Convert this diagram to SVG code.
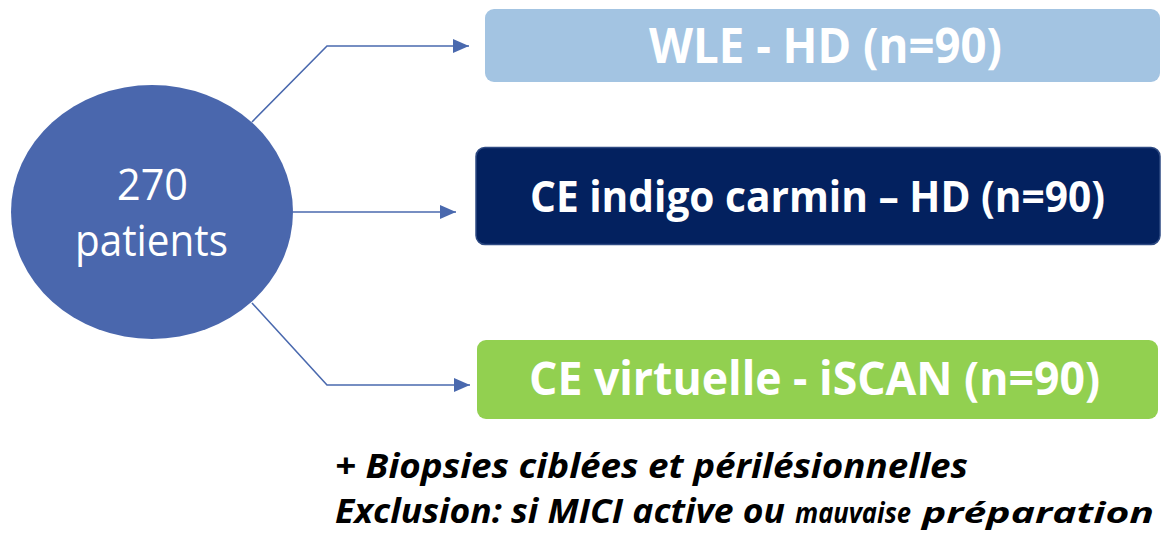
<svg xmlns="http://www.w3.org/2000/svg" width="1168" height="535" viewBox="0 0 1168 535">
<style>
.conn{fill:none;stroke:#4A69AE;stroke-width:1.6}
.bt{font-family:"Open Sans","Noto Sans",sans-serif;font-weight:bold;fill:#fff}
.ct{font-family:"Open Sans","Noto Sans",sans-serif;fill:#fff;font-size:44px}
.nt{font-family:"Open Sans","Noto Sans",sans-serif;font-weight:bold;font-style:italic;fill:#000}
</style>
<defs>
<marker id="arr" viewBox="0 0 16 14" refX="16" refY="7" markerWidth="16" markerHeight="14" markerUnits="userSpaceOnUse" orient="auto">
<path d="M0,0 L16,7 L0,14 Z" fill="#4A69AE"/>
</marker>
</defs>
<g id="connectors">
<polyline class="conn" points="252,122 327,46 469,46" marker-end="url(#arr)"/>
<line class="conn" x1="293" y1="212" x2="456" y2="212" marker-end="url(#arr)"/>
<polyline class="conn" points="252,303 327,385 470,385" marker-end="url(#arr)"/>
</g>
<g id="patients">
<ellipse cx="152" cy="212" rx="141" ry="127" fill="#4A67AD"/>
<text class="ct" x="117" y="200" textLength="71" lengthAdjust="spacingAndGlyphs">270</text>
<text class="ct" x="75" y="256" textLength="153" lengthAdjust="spacingAndGlyphs">patients</text>
</g>
<g id="wle">
<rect x="485" y="9" width="675" height="73" rx="9" fill="#A3C4E2"/>
<text class="bt" x="649" y="63" font-size="48" textLength="353" lengthAdjust="spacingAndGlyphs">WLE - HD (n=90)</text>
</g>
<g id="indigo">
<rect x="476" y="147.5" width="684" height="97" rx="9" fill="#03215F" stroke="#2E4A82" stroke-width="1.5"/>
<text class="bt" x="530" y="212" font-size="43" textLength="575" lengthAdjust="spacingAndGlyphs">CE indigo carmin – HD (n=90)</text>
</g>
<g id="iscan">
<rect x="477" y="340" width="681" height="79" rx="9" fill="#92D050"/>
<text class="bt" x="529" y="395" font-size="47" textLength="571" lengthAdjust="spacingAndGlyphs">CE virtuelle - iSCAN (n=90)</text>
</g>
<g id="notes">
<text class="nt" x="335" y="478" font-size="34" textLength="633" lengthAdjust="spacingAndGlyphs">+ Biopsies ciblées et périlésionnelles</text>
<text class="nt" x="335" y="523" font-size="34" textLength="450" lengthAdjust="spacingAndGlyphs">Exclusion: si MICI active ou</text>
<text class="nt" x="795" y="523" font-size="29" textLength="116" lengthAdjust="spacingAndGlyphs">mauvaise</text>
<text class="nt" x="922" y="523" font-size="29" textLength="232" lengthAdjust="spacingAndGlyphs">préparation</text>
</g>
</svg>
